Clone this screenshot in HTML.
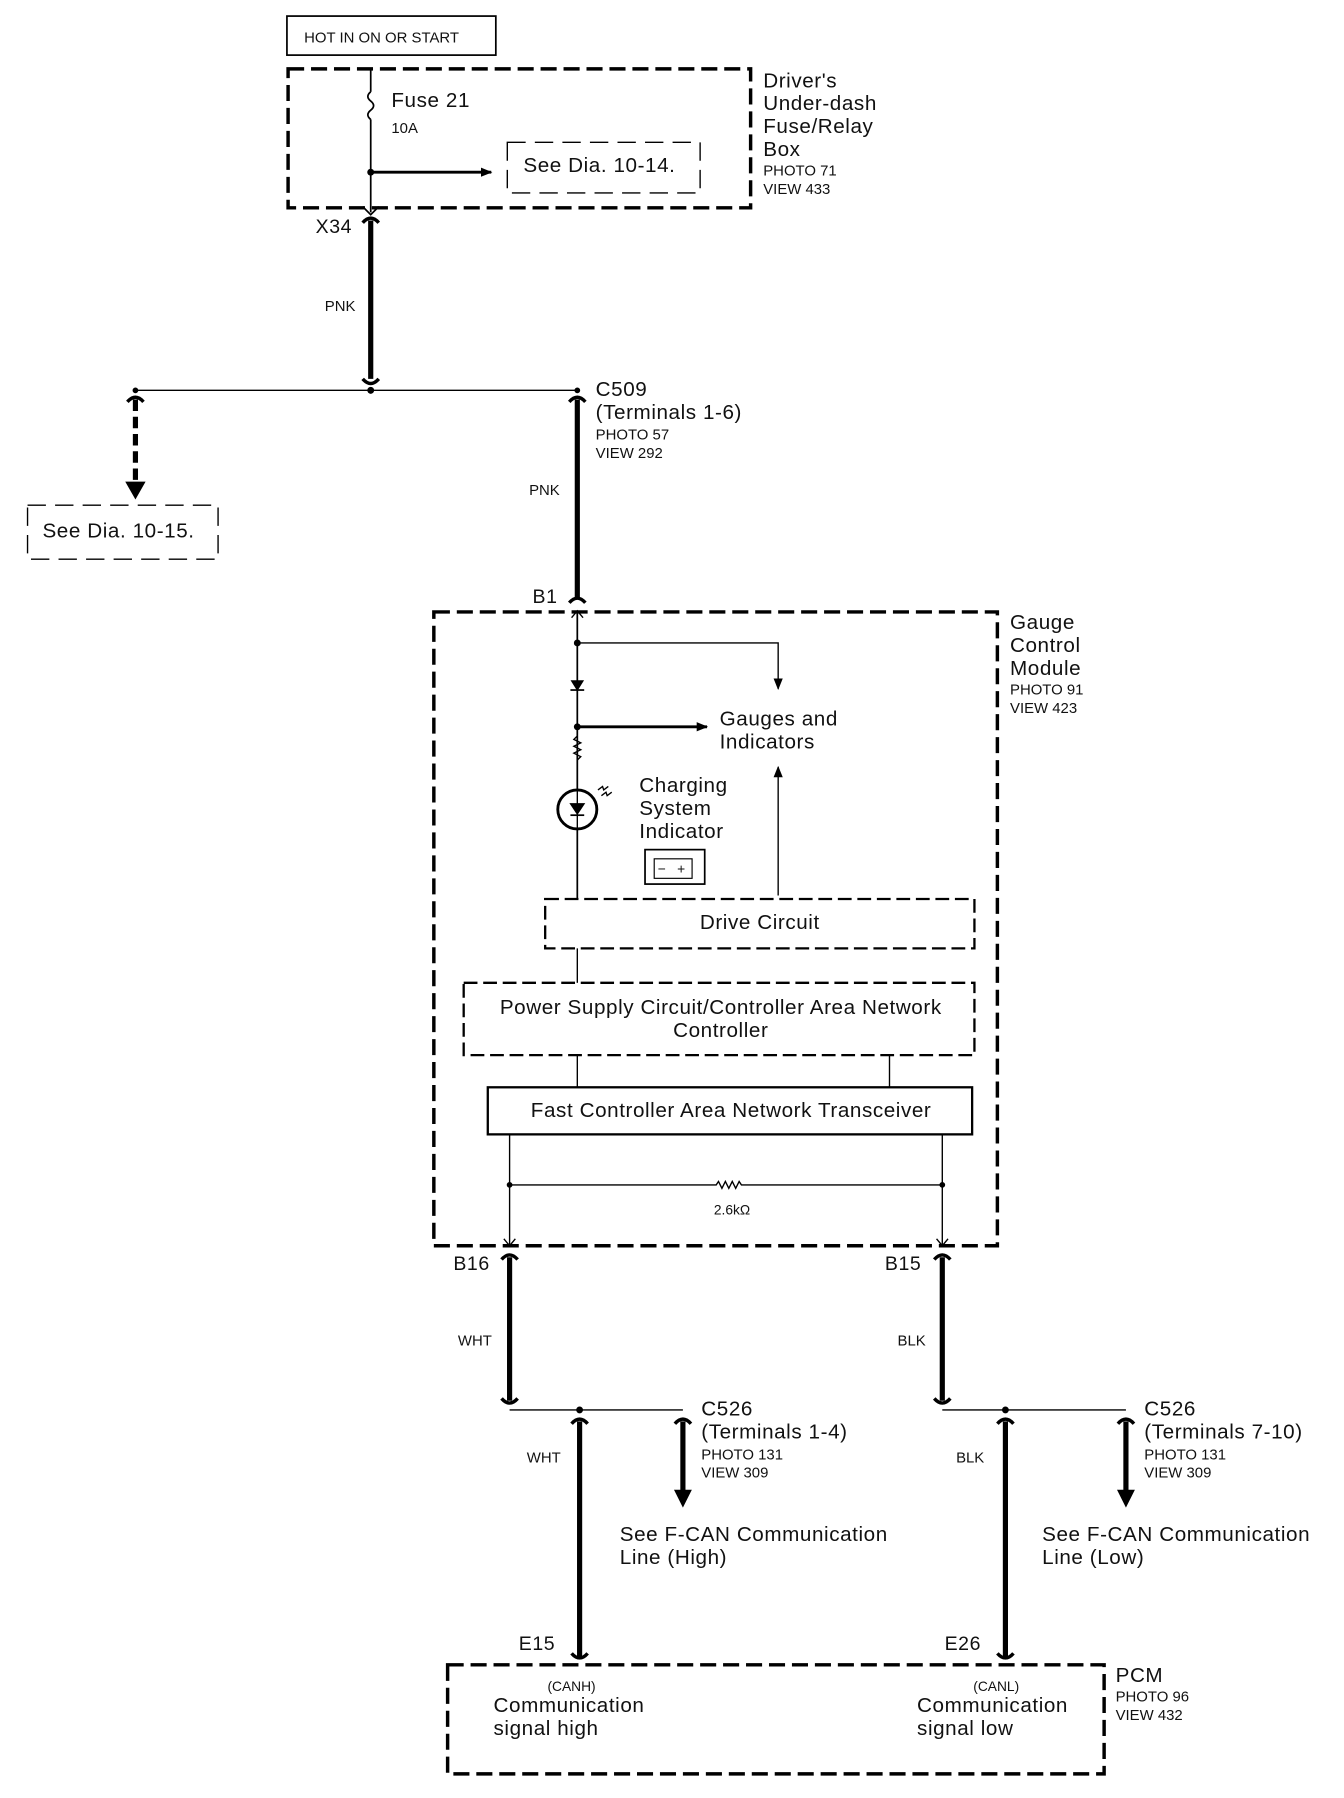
<!DOCTYPE html>
<html><head><meta charset="utf-8"><style>
html,body{margin:0;padding:0;background:#fff;}
svg{display:block;}
text{font-family:"Liberation Sans",sans-serif;fill:#111;}
text[font-size="18"],g[font-size="18"] text,text[font-size="17"]{letter-spacing:0.5px;}
</style></head><body>
<svg width="1344" height="1798" viewBox="0 0 1171 1566" preserveAspectRatio="none" xmlns="http://www.w3.org/2000/svg">
<defs>
<marker id="ah" markerWidth="10" markerHeight="10" refX="9" refY="5" orient="auto" markerUnits="userSpaceOnUse"><path d="M0,1 L10,5 L0,9 Z" fill="#000"/></marker>
</defs>
<g stroke="#000" fill="none">
<rect x="250" y="14" width="182" height="34" stroke-width="1.5"/>
<rect x="251" y="60" width="403" height="121" stroke-width="3" stroke-dasharray="14,6"/>
<line x1="323" y1="60" x2="323" y2="80" stroke-width="1.5"/>
<path d="M323,80 q-5,4 0,8 q5,4 0,8 q-5,4 0,8" stroke-width="1.5"/>
<line x1="323" y1="104" x2="323" y2="185" stroke-width="1.5"/>
<line x1="323" y1="150" x2="428" y2="150" stroke-width="2.5" marker-end="url(#ah)"/>
<rect x="442" y="124" width="168" height="44" stroke-width="1.2" stroke-dasharray="16,8"/>
<path d="M316,180 L323,187 L330,180" stroke-width="1.5"/>
<path d="M316,194 Q323,186 330,194" stroke-width="3"/>
<line x1="323" y1="192" x2="323" y2="330" stroke-width="4.5"/>
<path d="M316,330 Q323,338 330,330" stroke-width="3"/>
<line x1="118" y1="340" x2="503" y2="340" stroke-width="1.2"/>
<path d="M111,350 Q118,342 125,350" stroke-width="3"/>
<line x1="118" y1="348" x2="118" y2="422" stroke-width="4.5" stroke-dasharray="10,5"/>
<path d="M110,420 L118,434 L126,420 Z" fill="#000"/>
<rect x="24" y="440" width="166" height="47" stroke-width="1.2" stroke-dasharray="16,8"/>
<path d="M496,350 Q503,342 510,350" stroke-width="3"/>
<line x1="503" y1="348" x2="503" y2="522" stroke-width="4.5"/>
<path d="M496,525 Q503,517 510,525" stroke-width="3"/>
<rect x="378" y="533" width="491" height="552" stroke-width="3" stroke-dasharray="14,6"/>
<path d="M498,538 L503,532 L508,538" stroke-width="1.2"/>
<line x1="503" y1="533" x2="503" y2="783" stroke-width="1.5"/>
<path d="M503,560 L678,560 L678,600" stroke-width="1.2" marker-end="url(#ah)"/>
<path d="M498,593 L508,593 L503,601 Z" fill="#000"/>
<line x1="497" y1="601" x2="509" y2="601" stroke-width="1.5"/>
<line x1="503" y1="633" x2="616" y2="633" stroke-width="2.5" marker-end="url(#ah)"/>
<path d="M503,641 l-3,3 l6,3 l-6,3 l6,3 l-6,3 l6,3 l-3,3" stroke-width="1.2" fill="none"/>
<circle cx="503" cy="705" r="17" stroke-width="2.5" fill="#fff"/>
<path d="M497,700 L509,700 L503,709 Z" fill="#000"/>
<line x1="497" y1="710" x2="509" y2="710" stroke-width="1.5"/>
<line x1="503" y1="688" x2="503" y2="722" stroke-width="1.2"/>
<path d="M521,688 l4,-3 l1,3 l4,-3 M524,693 l4,-3 l1,3 l4,-3" stroke-width="1.2"/>
<rect x="562" y="740" width="52" height="30" stroke-width="1.5"/>
<rect x="570" y="748" width="33" height="17" stroke-width="1"/>
<line x1="678" y1="780" x2="678" y2="668" stroke-width="1.2" marker-end="url(#ah)"/>
<rect x="475" y="783" width="374" height="43" stroke-width="2" stroke-dasharray="12,5"/>
<line x1="503" y1="826" x2="503" y2="856" stroke-width="1.2"/>
<rect x="404" y="856" width="445" height="63" stroke-width="2" stroke-dasharray="12,5"/>
<line x1="503" y1="919" x2="503" y2="947" stroke-width="1.2"/>
<line x1="775" y1="919" x2="775" y2="947" stroke-width="1.2"/>
<rect x="425" y="947" width="422" height="41" stroke-width="2"/>
<line x1="444" y1="988" x2="444" y2="1085" stroke-width="1.2"/>
<line x1="821" y1="988" x2="821" y2="1085" stroke-width="1.2"/>
<path d="M444,1032 L624,1032 l2,-3 l3,6 l3,-6 l3,6 l3,-6 l3,6 l3,-6 l2,3 L821,1032" stroke-width="1.2"/>
<path d="M439,1079 L444,1085 L449,1079 M816,1079 L821,1085 L826,1079" stroke-width="1.2"/>
<path d="M437,1097 Q444,1089 451,1097 M814,1097 Q821,1089 828,1097" stroke-width="3"/>
<line x1="444" y1="1095" x2="444" y2="1220" stroke-width="4.5"/>
<line x1="821" y1="1095" x2="821" y2="1220" stroke-width="4.5"/>
<path d="M437,1218 Q444,1226 451,1218 M814,1218 Q821,1226 828,1218" stroke-width="3"/>
<line x1="444" y1="1228" x2="595" y2="1228" stroke-width="1.2"/>
<line x1="821" y1="1228" x2="981" y2="1228" stroke-width="1.2"/>
<path d="M588,1240 Q595,1232 602,1240 M974,1240 Q981,1232 988,1240 M498,1240 Q505,1232 512,1240 M869,1240 Q876,1232 883,1240" stroke-width="3"/>
<line x1="595" y1="1238" x2="595" y2="1300" stroke-width="4.5"/>
<line x1="981" y1="1238" x2="981" y2="1300" stroke-width="4.5"/>
<path d="M588,1298 L595,1312 L602,1298 Z M974,1298 L981,1312 L988,1298 Z" fill="#000"/>
<line x1="505" y1="1238" x2="505" y2="1445" stroke-width="4.5"/>
<line x1="876" y1="1238" x2="876" y2="1445" stroke-width="4.5"/>
<path d="M498,1440 Q505,1448 512,1440 M869,1440 Q876,1448 883,1440" stroke-width="3"/>
<rect x="390" y="1450" width="572" height="95" stroke-width="3" stroke-dasharray="14,6"/>
</g>
<g fill="#000">
<circle cx="323" cy="150" r="3"/><circle cx="323" cy="340" r="3"/><circle cx="118" cy="340" r="2.5"/><circle cx="503" cy="340" r="2.5"/>
<circle cx="503" cy="560" r="3"/><circle cx="503" cy="633" r="3"/>
<circle cx="444" cy="1032" r="2.5"/><circle cx="821" cy="1032" r="2.5"/>
<circle cx="505" cy="1228" r="3"/><circle cx="876" cy="1228" r="3"/>
</g>
<text x="265" y="37" font-size="13">HOT IN ON OR START</text>
<text x="341" y="93" font-size="18">Fuse 21</text>
<text x="341" y="116" font-size="13">10A</text>
<text x="456" y="150" font-size="18">See Dia. 10-14.</text>
<g font-size="18"><text x="665" y="76">Driver's</text><text x="665" y="96">Under-dash</text><text x="665" y="116">Fuse/Relay</text><text x="665" y="136">Box</text></g>
<text x="665" y="153" font-size="13">PHOTO 71</text><text x="665" y="169" font-size="13">VIEW 433</text>
<text x="275" y="203" font-size="17">X34</text>
<text x="283" y="271" font-size="13">PNK</text>
<text x="519" y="345" font-size="18">C509</text><text x="519" y="365" font-size="18">(Terminals 1-6)</text>
<text x="519" y="383" font-size="13">PHOTO 57</text><text x="519" y="399" font-size="13">VIEW 292</text>
<text x="37" y="468" font-size="18">See Dia. 10-15.</text>
<text x="461" y="431" font-size="13">PNK</text>
<text x="464" y="525" font-size="17">B1</text>
<g font-size="18"><text x="880" y="548">Gauge</text><text x="880" y="568">Control</text><text x="880" y="588">Module</text></g>
<text x="880" y="605" font-size="13">PHOTO 91</text><text x="880" y="621" font-size="13">VIEW 423</text>
<text x="627" y="632" font-size="18">Gauges and</text><text x="627" y="652" font-size="18">Indicators</text>
<text x="557" y="690" font-size="18">Charging</text><text x="557" y="710" font-size="18">System</text><text x="557" y="730" font-size="18">Indicator</text>
<text x="573" y="761" font-size="12">−</text><text x="590" y="761" font-size="12">+</text>
<text x="662" y="809" font-size="18" text-anchor="middle">Drive Circuit</text>
<text x="628" y="883" font-size="18" text-anchor="middle">Power Supply Circuit/Controller Area Network</text>
<text x="628" y="903" font-size="18" text-anchor="middle">Controller</text>
<text x="637" y="973" font-size="18" text-anchor="middle">Fast Controller Area Network Transceiver</text>
<text x="622" y="1058" font-size="12">2.6kΩ</text>
<text x="395" y="1106" font-size="17">B16</text><text x="771" y="1106" font-size="17">B15</text>
<text x="399" y="1172" font-size="13">WHT</text><text x="782" y="1172" font-size="13">BLK</text>
<text x="611" y="1233" font-size="18">C526</text><text x="611" y="1253" font-size="18">(Terminals 1-4)</text>
<text x="611" y="1271" font-size="13">PHOTO 131</text><text x="611" y="1287" font-size="13">VIEW 309</text>
<text x="997" y="1233" font-size="18">C526</text><text x="997" y="1253" font-size="18">(Terminals 7-10)</text>
<text x="997" y="1271" font-size="13">PHOTO 131</text><text x="997" y="1287" font-size="13">VIEW 309</text>
<text x="459" y="1274" font-size="13">WHT</text><text x="833" y="1274" font-size="13">BLK</text>
<text x="540" y="1342" font-size="18">See F-CAN Communication</text><text x="540" y="1362" font-size="18">Line (High)</text>
<text x="908" y="1342" font-size="18">See F-CAN Communication</text><text x="908" y="1362" font-size="18">Line (Low)</text>
<text x="452" y="1437" font-size="17">E15</text><text x="823" y="1437" font-size="17">E26</text>
<text x="477" y="1473" font-size="12">(CANH)</text><text x="848" y="1473" font-size="12">(CANL)</text>
<text x="430" y="1491" font-size="18">Communication</text><text x="430" y="1511" font-size="18">signal high</text>
<text x="799" y="1491" font-size="18">Communication</text><text x="799" y="1511" font-size="18">signal low</text>
<text x="972" y="1465" font-size="18">PCM</text>
<text x="972" y="1482" font-size="13">PHOTO 96</text><text x="972" y="1498" font-size="13">VIEW 432</text>
</svg>
</body></html>
